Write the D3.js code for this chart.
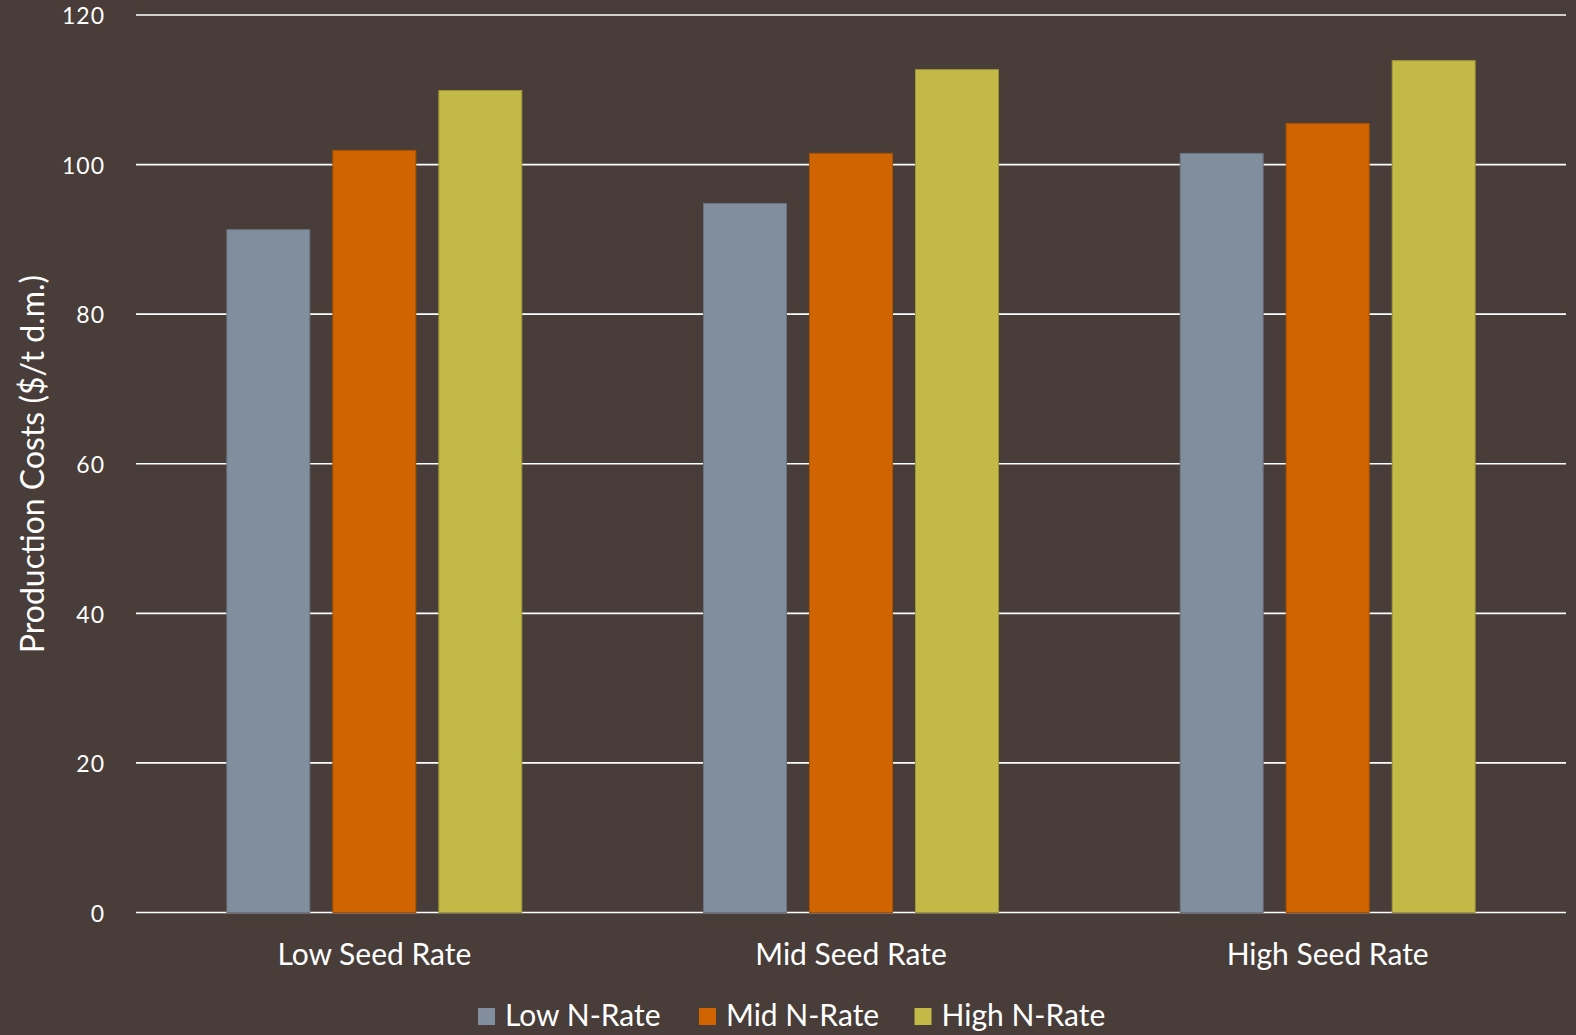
<!DOCTYPE html>
<html>
<head>
<meta charset="utf-8">
<script src="https://cdn.jsdelivr.net/npm/d3@7"></script>
<style>
  html, body { margin: 0; padding: 0; background: #483d39; }
  svg { display: block; }
  text { font-family: Lato, "Open Sans", sans-serif; fill: #ffffff; }
</style>
</head>
<body>
<svg id="chart" width="1576" height="1035"></svg>
<script>
// Production costs by seed rate (groups) and N-rate (series), $/t d.m.
const categories = ["Low Seed Rate", "Mid Seed Rate", "High Seed Rate"];
const seriesNames = ["Low N-Rate", "Mid N-Rate", "High N-Rate"];
const lowN  = [91.3, 94.8, 101.5];
const midN  = [101.9, 101.5, 105.5];
const highN = [109.9, 112.7, 113.9];
const yTicks = [0, 20, 40, 60, 80, 100, 120];
const yTitle = "Production Costs ($/t d.m.)";

const seriesValues = [lowN, midN, highN];
const colors = ["#818e9e", "#d06400", "#c3b946"];

const W = 1576, H = 1035;
const plot = { left: 136, right: 1566, top: 15, bottom: 912.5 };

const svg = d3.select("#chart");
svg.append("rect").attr("width", W).attr("height", H).attr("fill", "#483d39");

const x0 = d3.scaleBand().domain(categories).range([plot.left, plot.right]).padding(0);
const x1 = d3.scaleBand().domain(seriesNames).range([0, x0.bandwidth()])
  .paddingInner(0.217).paddingOuter(0.857);
const y = d3.scaleLinear().domain([0, 120]).range([plot.bottom, plot.top]);

// horizontal gridlines (including the baseline)
svg.append("g").selectAll("line").data(yTicks).join("line")
  .attr("x1", plot.left).attr("x2", plot.right)
  .attr("y1", d => y(d)).attr("y2", d => y(d))
  .attr("stroke", "#ffffff").attr("stroke-width", 1.6);

// y tick labels
const yAxis = svg.append("g").attr("transform", `translate(${plot.left - 31},0)`)
  .call(d3.axisLeft(y).tickValues(yTicks).tickSize(0).tickPadding(0).tickFormat(d3.format("d")));
yAxis.select(".domain").remove();
yAxis.selectAll("text").attr("font-size", 23).attr("font-family", "Lato, sans-serif")
  .attr("fill", "#ffffff").attr("dy", "0.38em").attr("letter-spacing", 1);

// bars
const rows = categories.map((c, i) => ({
  cat: c,
  vals: seriesNames.map((s, j) => ({ s, v: seriesValues[j][i], color: colors[j] }))
}));
const groups = svg.append("g").selectAll("g").data(rows).join("g")
  .attr("transform", d => `translate(${x0(d.cat)},0)`);
groups.selectAll("rect").data(d => d.vals).join("rect")
  .attr("x", d => x1(d.s))
  .attr("width", x1.bandwidth())
  .attr("y", d => y(d.v))
  .attr("height", d => y(0) - y(d.v))
  .attr("fill", d => d.color)
  .attr("stroke", d => d3.color(d.color).darker(0.6))
  .attr("stroke-width", 1);

// category labels
svg.append("g").selectAll("text").data(categories).join("text")
  .attr("x", d => x0(d) + x0.bandwidth() / 2)
  .attr("y", 965)
  .attr("text-anchor", "middle")
  .attr("font-size", 30)
  .text(d => d);

// y axis title
svg.append("text")
  .attr("transform", `translate(44,464) rotate(-90)`)
  .attr("text-anchor", "middle")
  .attr("font-size", 32)
  .text(yTitle);

// legend
const legendX = [478, 699, 914.5];
const legend = svg.append("g").selectAll("g").data(seriesNames).join("g")
  .attr("transform", (d, i) => `translate(${legendX[i]},1008)`);
legend.append("rect").attr("width", 17).attr("height", 17)
  .attr("fill", (d, i) => colors[i]);
legend.append("text").attr("x", 27).attr("y", 17.5)
  .attr("font-size", 30).text(d => d);
</script>
</body>
</html>
